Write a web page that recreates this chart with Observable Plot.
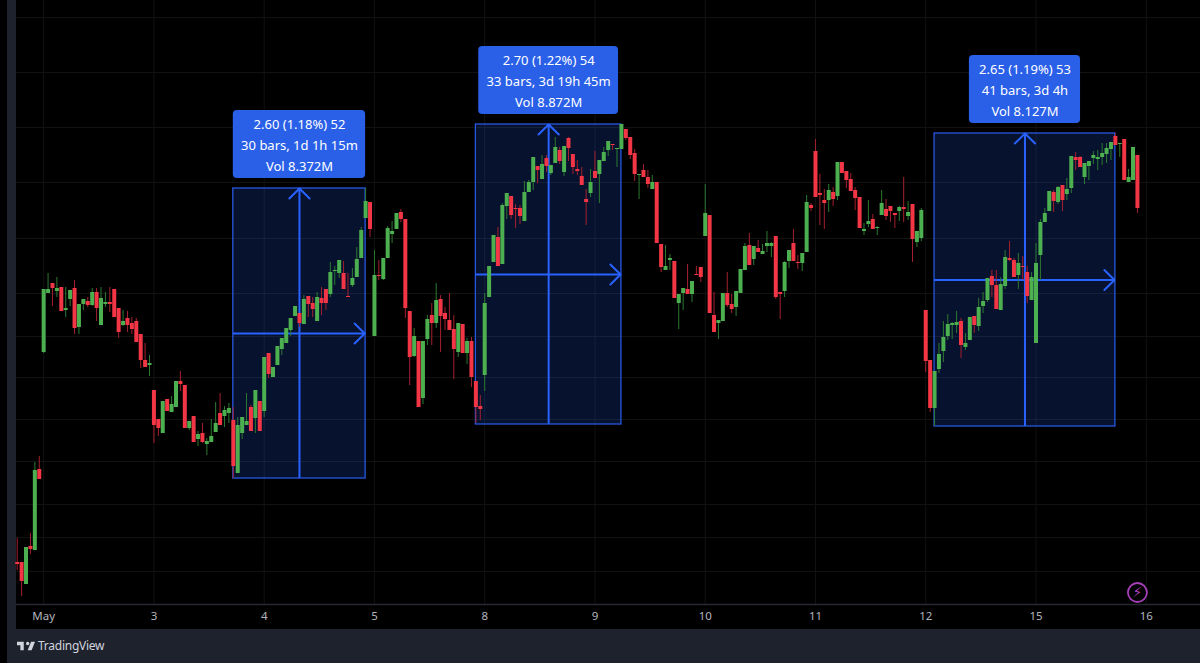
<!DOCTYPE html>
<html>
<head>
<meta charset="utf-8">
<script src="https://cdn.jsdelivr.net/npm/d3@7"></script>
<script src="https://cdn.jsdelivr.net/npm/@observablehq/plot@0.6"></script>
<style>
html,body{margin:0;padding:0;background:#000;width:1200px;height:663px;overflow:hidden;font-family:"Noto Sans",sans-serif}
#strip{position:absolute;left:7px;top:0;width:9px;height:629px;background:#1e222d}
#chart{position:absolute;left:0;top:0}
#foot{position:absolute;left:7px;top:629px;width:1193px;height:34px;background:#1e222d;color:#d1d4dc;font-size:12px;line-height:34px}
#foot svg{position:absolute;left:10px;top:12px}
#foot span{position:absolute;left:31px;top:0;letter-spacing:-.25px}
</style>
</head>
<body>
<div id="strip"></div>
<div id="chart"></div>
<div id="foot"><svg width="18" height="10" viewBox="2 5.5 32 16"><path fill="#d1d4dc" d="M14 6H2v6h6v9h6V6Zm14 15h-7l6-15h7l-6 15Zm-7-9a3 3 0 1 0 0-6 3 3 0 0 0 0 6Z"/></svg><span>TradingView</span></div>
<script>
// Candles: [open, high, low, close] in chart levels (no price axis is shown in the picture)
const barsA = [[38,62,30,36],[38,38,4,19],[16,53,16,53],[54,67,46,51],[50,138,50,130],[131,144,121,121],[248,311,247,311],[307,327,307,311],[317,317,294,312],[309,323,303,312],[313,313,289,289],[290,313,283,292],[301,310,294,310],[312,320,266,272],[273,296,266,296],[296,301,290,301],[299,303,293,295],[295,312,294,308],[308,312,279,292],[275,313,275,302],[296,308,293,298],[298,313,288,296],[311,311,283,283],[292,292,262,268],[275,290,274,279],[282,289,268,275],[277,283,266,271],[279,282,258,258],[266,266,232,240],[240,257,233,233],[235,245,224,237],[210,210,157,175],[181,181,164,172],[167,199,167,199],[201,201,189,189],[188,204,188,196],[193,219,193,219],[219,229,209,216],[215,215,172,172],[172,179,170,179],[184,184,158,158],[161,169,154,166],[167,177,157,158],[156,162,145,159],[158,181,158,164],[168,198,168,177],[187,207,175,175],[184,194,173,190],[187,197,177,192],[180,193,122,134],[127,183,127,175]];
const barsB = [[167,183,161,183],[175,207,175,179],[193,195,169,169],[182,210,167,210],[199,199,169,169],[189,243,183,243],[247,247,222,226],[223,233,223,233],[235,254,235,254],[251,262,245,262],[257,272,257,272],[270,282,264,282],[284,294,284,294],[287,287,273,277],[276,305,276,301],[304,304,283,296],[297,303,283,291],[279,308,279,303],[302,313,285,297],[311,311,290,297],[306,338,303,328],[329,334,315,330],[327,340,322,340],[327,339,311,311],[304,327,303,303],[315,332,313,322],[323,353,323,341],[342,373,342,370],[382,412,382,399],[398,398,363,371],[264,350,264,325],[325,340,320,324],[321,342,320,342],[342,374,342,372],[366,379,357,369],[371,387,371,387],[388,391,378,381],[381,381,282,292],[289,289,215,243],[244,272,243,264],[259,259,193,193],[202,259,196,259],[261,285,255,281],[285,297,255,277],[277,317,272,300],[301,305,248,284],[287,293,270,281],[280,307,270,270],[271,285,221,251],[248,277,243,277],[276,276,247,247],[247,262,236,259],[259,263,213,223]];
const barsC = [[219,219,177,193],[194,205,180,191],[225,307,209,297],[303,334,303,334],[338,365,338,365],[363,373,334,334],[336,397,336,395],[394,407,381,407],[404,404,381,385],[392,396,372,391],[392,395,376,384],[379,419,379,408],[408,420,408,418],[418,443,410,443],[434,434,417,430],[421,445,421,436],[442,445,428,434],[427,435,425,435],[437,463,437,453],[450,453,436,439],[428,454,424,454],[462,463,439,452],[446,446,426,433],[431,440,425,429],[424,433,415,415],[401,411,375,398],[407,431,403,418],[429,449,422,422],[426,440,397,440],[439,453,439,448],[450,459,444,459],[456,456,450,455],[451,452,433,452],[451,476,451,476],[471,471,460,462],[463,463,441,445],[447,451,419,426],[425,426,401,426],[430,436,423,423],[423,430,412,416],[411,425,411,418],[418,418,357,357],[356,356,328,333],[330,355,330,334],[340,346,330,342],[339,339,302,302],[297,306,271,306],[307,312,290,312],[311,336,306,306],[306,319,298,319],[326,334,325,325],[333,333,318,323]];
const barsD = [[364,416,364,387],[385,385,287,287],[285,308,268,268],[277,280,261,280],[279,307,279,307],[307,328,293,295],[296,306,287,291],[293,309,284,309],[307,331,307,331],[330,357,330,354],[355,367,335,335],[341,354,335,354],[352,360,348,348],[346,356,346,349],[354,369,348,357],[354,358,343,357],[364,364,301,303],[308,308,281,306],[309,339,303,338],[339,350,332,350],[357,371,339,339],[338,345,331,337],[337,347,329,347],[348,405,348,398],[395,397,389,392],[449,461,403,403],[407,426,375,405],[400,411,371,397],[400,416,388,410],[408,413,394,401],[404,438,400,438],[438,438,427,427],[429,429,412,420],[421,427,409,409],[410,413,390,402],[403,403,372,372],[369,377,365,371],[376,400,373,379],[381,386,371,371],[372,374,365,373],[385,410,385,397],[391,401,380,384],[394,394,378,389],[387,387,372,385],[389,394,379,393],[393,423,378,391],[384,399,380,388],[396,396,338,361],[358,369,353,369],[362,392,359,390]];
const barsE = [[290,290,228,239],[240,240,188,192],[192,229,174,229],[231,257,227,246],[249,279,238,263],[264,286,260,276],[275,278,261,277],[275,289,267,278],[279,282,242,255],[253,267,250,257],[260,283,260,283],[284,284,267,275],[274,302,269,293],[294,308,287,299],[300,322,298,322],[324,330,303,315],[315,330,291,291],[290,323,290,316],[314,350,311,343],[342,359,339,340],[340,342,323,323],[325,347,311,337],[334,344,320,333],[328,334,297,304],[300,328,300,323],[257,357,257,337],[345,381,320,378],[378,392,378,387],[389,409,389,409],[408,410,388,399],[398,414,396,413],[415,415,389,400],[406,422,400,411],[412,444,407,444],[443,448,430,440],[443,444,433,433],[423,437,416,437],[434,439,420,439],[442,449,436,445],[441,450,430,443],[443,457,435,447],[446,457,437,452],[451,458,440,458],[464,467,455,455],[456,457,443,457],[461,461,420,420],[418,431,418,423],[420,453,420,453],[445,445,387,392]];

const dayTickBars = [6,31,56,81,106,131,156,181,206,231,256];
const dayTickLabels = ["May","3","4","5","8","9","10","11","12","15","16"];
const gridLevels = [583,528,473,418,362,307,264,223,181,139,96,63,29];

// Measure tools: bar range, level range and their caption
const toolStart = [49,104,208];
const toolEnd = [79,137,249];
const toolLow = [122,176,174];
const toolHigh = [412,476,467];
const toolText = [
  "2.60 (1.18%) 52\n30 bars, 1d 1h 15m\nVol 8.372M",
  "2.70 (1.22%) 54\n33 bars, 3d 19h 45m\nVol 8.872M",
  "2.65 (1.19%) 53\n41 bars, 3d 4h\nVol 8.127M"
];
const captionWidth = [30,31.7,25.2];

const bars = [...barsA,...barsB,...barsC,...barsD,...barsE].map((b,i)=>({bar:i,open:b[0],high:b[1],low:b[2],close:b[3]}));
const up = bars.filter(d=>d.close>=d.open), down = bars.filter(d=>d.close<d.open);
const tools = toolStart.map((s,i)=>({s,e:toolEnd[i],lo:toolLow[i],hi:toolHigh[i],text:toolText[i],w:captionWidth[i],mx:(s+toolEnd[i])/2,my:(toolLow[i]+toolHigh[i])/2}));
const upHeads = tools.flatMap((t,k)=>[[t.mx-2.3,t.hi-10],[t.mx,t.hi],[t.mx+2.3,t.hi-10]].map(p=>({k,x:p[0],y:p[1]})));
const rightHeads = tools.flatMap((t,k)=>[[t.e-2.5,t.my+10],[t.e-0.2,t.my],[t.e-2.5,t.my-10]].map(p=>({k:k+10,x:p[0],y:p[1]})));

const BLUE="#2962ff", LINE="#2757e0", GRID="#121212";
const chart = Plot.plot({
  width:1200,height:629,marginLeft:16,marginRight:0,marginTop:0,marginBottom:25,
  style:{background:"transparent",fontFamily:"'Noto Sans',sans-serif"},
  x:{domain:[-0.16,268.3],range:[16,1200],axis:null},
  y:{domain:[-4,600],range:[604,0],axis:null},
  marks:[
    Plot.ruleX(dayTickBars,{x:d=>d,y1:-4,y2:600,stroke:GRID,strokeWidth:1}),
    Plot.ruleY(gridLevels,{y:d=>d,stroke:GRID,strokeWidth:1}),
    Plot.ruleY([-4],{y:d=>d,stroke:"#26282e",strokeWidth:1.5}),
    Plot.rect(tools,{x1:"s",x2:"e",y1:"lo",y2:"hi",fill:BLUE,fillOpacity:0.18}),
    Plot.rect(tools,{x1:"s",x2:"e",y1:"lo",y2:"hi",stroke:LINE,strokeWidth:1.3,fill:"none"}),
    Plot.ruleX(tools,{x:"mx",y1:"lo",y2:"hi",stroke:BLUE,strokeWidth:2}),
    Plot.ruleY(tools,{y:"my",x1:"s",x2:"e",stroke:BLUE,strokeWidth:2}),
    Plot.line(upHeads,{x:"x",y:"y",z:"k",stroke:BLUE,strokeWidth:2,curve:"linear"}),
    Plot.line(rightHeads,{x:"x",y:"y",z:"k",stroke:BLUE,strokeWidth:2,curve:"linear"}),
    Plot.ruleX(up,{x:"bar",y1:"low",y2:"high",stroke:"#2c7a31",strokeWidth:1}),
    Plot.ruleX(down,{x:"bar",y1:"low",y2:"high",stroke:"#a5202e",strokeWidth:1}),
    Plot.ruleX(up,{x:"bar",y1:"open",y2:"close",stroke:"#4caf50",strokeWidth:4}),
    Plot.ruleX(down,{x:"bar",y1:"open",y2:"close",stroke:"#f23645",strokeWidth:4}),
    Plot.rect(tools,{x1:d=>d.mx-d.w/2,x2:d=>d.mx+d.w/2,y1:d=>d.hi+10,y2:d=>d.hi+78,fill:"#2a5fe8",rx:4}),
    Plot.text(tools,{x:"mx",y:d=>d.hi+44,dy:-1,text:"text",fill:"#fff",fontSize:13,lineHeight:1.62,lineAnchor:"middle"}),
    Plot.dot([{x:254,y:8}],{x:"x",y:"y",r:9.5,stroke:"#a63fb8",strokeWidth:1.8,fill:"none"}),
    Plot.text([{x:254,y:8}],{x:"x",y:"y",text:()=>"\u26A1\uFE0E",fill:"#a63fb8",fontSize:14,fontFamily:"DejaVu Sans"}),
    Plot.axisX({ticks:dayTickBars,tickFormat:d=>dayTickLabels[dayTickBars.indexOf(d)],tickSize:0,tickPadding:7,fontSize:11.5,fill:"#b2b5be",label:null,anchor:"bottom"})
  ]
});
document.getElementById("chart").append(chart);
</script>
</body>
</html>
